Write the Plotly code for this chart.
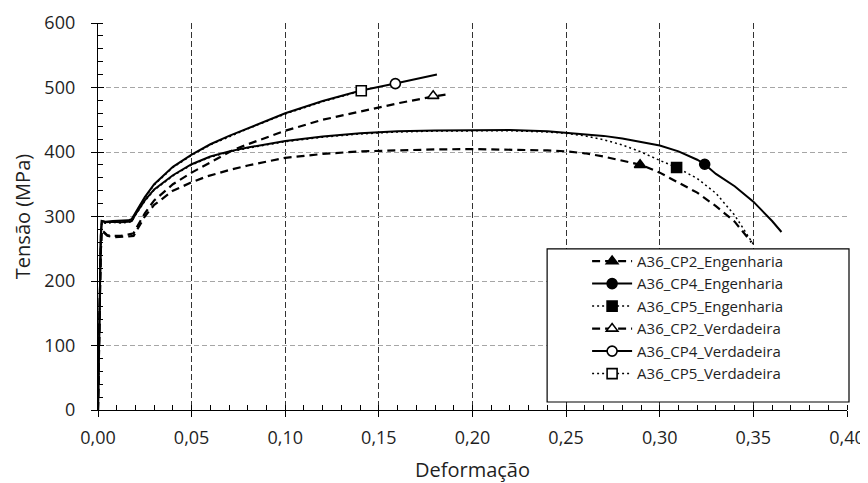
import plotly.graph_objects as go

# ---------------- data ----------------
cp4_eng_x = [0, 0.0008, 0.0015, 0.002, 0.004, 0.008, 0.012, 0.016, 0.018, 0.02, 0.025, 0.03, 0.04, 0.05,
             0.06, 0.07, 0.08, 0.10, 0.12, 0.14, 0.16, 0.18, 0.20, 0.22, 0.24, 0.25, 0.26, 0.27, 0.28,
             0.29, 0.30, 0.31, 0.32, 0.324, 0.33, 0.34, 0.35, 0.36, 0.365]
cp4_eng_y = [0, 150, 270, 293, 291, 292, 291, 292, 293, 303, 325, 342, 364, 381,
             393, 401, 407, 417, 424, 429, 432, 433.5, 434, 434, 432, 430, 428, 425, 421,
             416, 410, 401, 388, 381, 366, 347, 323, 293, 276]

cp5_eng_x = [0, 0.0008, 0.0015, 0.002, 0.004, 0.008, 0.012, 0.016, 0.018, 0.02, 0.025, 0.03, 0.04, 0.05,
             0.06, 0.07, 0.08, 0.10, 0.12, 0.14, 0.16, 0.18, 0.20, 0.22, 0.24, 0.25, 0.26, 0.27, 0.28,
             0.29, 0.30, 0.309, 0.32, 0.33, 0.34, 0.35]
cp5_eng_y = [0, 148, 268, 291, 290, 291, 290, 291, 292, 302, 324, 341, 363, 380,
             392, 400, 406, 416, 423, 428, 431, 432.5, 433, 433, 431, 429, 425, 419, 411,
             400, 387, 376, 359, 336, 302, 257]

cp2_eng_x = [0, 0.0008, 0.0014, 0.002, 0.003, 0.005, 0.008, 0.012, 0.016, 0.019, 0.021, 0.025, 0.03,
             0.04, 0.05, 0.058, 0.07, 0.08, 0.10, 0.12, 0.14, 0.16, 0.18, 0.20, 0.22, 0.24, 0.25,
             0.26, 0.27, 0.28, 0.29, 0.30, 0.31, 0.32, 0.33, 0.34, 0.349]
cp2_eng_y = [0, 140, 240, 278, 275, 270, 268, 268, 269, 270, 280, 300, 318,
             340, 353, 362, 372, 379, 391, 397, 401, 403, 404, 404.5, 404, 402.5, 401,
             398, 393, 387, 380, 368, 353, 337, 316, 292, 260]

cp2_ver_x = [0, 0.0008, 0.0014, 0.002, 0.003, 0.005, 0.008, 0.012, 0.016, 0.019, 0.021, 0.025, 0.03,
             0.04, 0.05, 0.06, 0.072, 0.08, 0.10, 0.12, 0.14, 0.161, 0.179, 0.186]
cp2_ver_y = [0, 140, 240, 279, 276, 271, 270, 270, 272, 274, 285, 305, 325,
             350, 368, 384, 403, 412, 433, 450, 463, 476, 486, 489]

cp4_ver_x = [0, 0.0008, 0.0015, 0.002, 0.004, 0.008, 0.012, 0.016, 0.018, 0.02, 0.025, 0.03, 0.04,
             0.05, 0.06, 0.07, 0.08, 0.10, 0.12, 0.14, 0.16, 0.181]
cp4_ver_y = [0, 150, 270, 293, 292, 293, 293, 294, 296, 306, 330, 350, 377,
             396, 412, 425, 437, 460, 479, 495, 507, 520]

cp5_ver_x = [0, 0.0008, 0.0015, 0.002, 0.004, 0.008, 0.012, 0.016, 0.018, 0.02, 0.025, 0.03, 0.04,
             0.05, 0.06, 0.07, 0.08, 0.10, 0.12, 0.141]
cp5_ver_y = [0, 148, 268, 291, 290, 291, 291, 292, 294, 305, 329, 349, 376,
             395, 411, 424, 436, 459, 478, 495]

# single highlighted points (markers)
marker_x = {"cp2_eng": 0.2895, "cp4_eng": 0.324, "cp5_eng": 0.309,
            "cp2_ver": 0.179, "cp4_ver": 0.1588, "cp5_ver": 0.1406}
marker_y = {"cp2_eng": 380, "cp4_eng": 381, "cp5_eng": 376,
            "cp2_ver": 487, "cp4_ver": 506, "cp5_ver": 495}

names = ["A36_CP2_Engenharia", "A36_CP4_Engenharia", "A36_CP5_Engenharia",
         "A36_CP2_Verdadeira", "A36_CP4_Verdadeira", "A36_CP5_Verdadeira"]

x_range = [0, 0.40]
x_major = 0.05
x_minor = 0.01
y_range = [0, 600]
y_major = 100
y_minor = 20

# ---------------- styling ----------------
FONT = "Open Sans"
TXT = "#1f1f1f"
DASH = "8px,5px"
DOT = "2px,3px"

series = [
    ("cp2_eng", cp2_eng_x, cp2_eng_y, DASH, 2.2, "triangle-up", "black"),
    ("cp4_eng", cp4_eng_x, cp4_eng_y, "solid", 2.0, "circle", "black"),
    ("cp5_eng", cp5_eng_x, cp5_eng_y, DOT, 1.5, "square", "black"),
    ("cp2_ver", cp2_ver_x, cp2_ver_y, DASH, 2.2, "triangle-up", "white"),
    ("cp4_ver", cp4_ver_x, cp4_ver_y, "solid", 2.0, "circle", "white"),
    ("cp5_ver", cp5_ver_x, cp5_ver_y, DOT, 1.5, "square", "white"),
]

fig = go.Figure()

# curves
for key, xs, ys, dash, w, sym, fill in series:
    fig.add_trace(go.Scatter(x=xs, y=ys, mode="lines", showlegend=False,
                             line=dict(color="black", width=w, dash=dash),
                             hoverinfo="skip"))
# single markers
for key, xs, ys, dash, w, sym, fill in series:
    fig.add_trace(go.Scatter(x=[marker_x[key]], y=[marker_y[key]], mode="markers", showlegend=False,
                             marker=dict(symbol=sym, size=10, color=fill,
                                         line=dict(color="black", width=1.6)),
                             hoverinfo="skip"))
# legend entries
for (key, xs, ys, dash, w, sym, fill), nm in zip(series, names):
    fig.add_trace(go.Scatter(x=[None], y=[None], mode="lines+markers", name=nm,
                             line=dict(color="black", width=w, dash=dash),
                             marker=dict(symbol=sym, size=10, color=fill,
                                         line=dict(color="black", width=1.6))))

# helper trace for the inside major ticks (overlay axes)
fig.add_trace(go.Scatter(x=[None], y=[None], xaxis="x2", yaxis="y2", showlegend=False))

# the page has an 8px body margin, so the figure is 8px smaller and offset
OFF = 8
W, H = 868 - OFF, 483 - OFF
PAGE_L, PAGE_R, PAGE_T, PAGE_B = 97.7, 847.0, 23.3, 410.0
L, T = PAGE_L - OFF, PAGE_T - OFF
R, B = W - (PAGE_R - OFF), H - (PAGE_B - OFF)
pw, ph = PAGE_R - PAGE_L, PAGE_B - PAGE_T


def px_x(p):
    return (p - PAGE_L) / pw


def px_y(p):
    return (PAGE_B - p) / ph


fig.add_shape(type="rect", xref="paper", yref="paper",
              x0=px_x(547), x1=px_x(849), y0=px_y(402), y1=px_y(249),
              line=dict(color="black", width=1.2), fillcolor="white", layer="above")

fig.update_layout(
    width=W, height=H, autosize=False,
    margin=dict(l=L, r=R, t=T, b=B, pad=0, autoexpand=False),
    paper_bgcolor="white", plot_bgcolor="white",
    separators=",.",
    font=dict(family=FONT, color=TXT, size=18),
    showlegend=True,
    legend=dict(x=px_x(587), y=px_y(245), xanchor="left", yanchor="top",
                bgcolor="rgba(0,0,0,0)", borderwidth=0,
                font=dict(family=FONT, size=15, color=TXT),
                itemwidth=40, tracegroupgap=0),
    xaxis=dict(range=x_range, tickmode="linear", tick0=0, dtick=x_major, tickformat=".2f",
               automargin=False,
               showline=True, linecolor="black", linewidth=1.3,
               ticks="outside", ticklen=6, tickcolor="black", tickwidth=1.2,
               showgrid=True, gridcolor="#333333", gridwidth=1, griddash="6px,3px",
               zeroline=False,
               minor=dict(tickmode="linear", dtick=x_minor, ticks="inside", ticklen=5,
                          tickcolor="black", tickwidth=1, showgrid=False),
               tickfont=dict(size=18, family=FONT, color=TXT),
               ticklabelstandoff=5,
               title=dict(text="Deformação", font=dict(size=20, family=FONT, color=TXT), standoff=16)),
    yaxis=dict(range=y_range, tickmode="linear", tick0=0, dtick=y_major, tickformat="d",
               automargin=False,
               showline=True, linecolor="black", linewidth=1.3,
               ticks="outside", ticklen=6, tickcolor="black", tickwidth=1.2,
               showgrid=True, gridcolor="#a6a6a6", gridwidth=1, griddash="5px,3px",
               zeroline=False,
               minor=dict(tickmode="linear", dtick=y_minor, ticks="inside", ticklen=5,
                          tickcolor="black", tickwidth=1, showgrid=False),
               tickfont=dict(size=18, family=FONT, color=TXT),
               ticklabelstandoff=12,
               title=dict(text="Tensão (MPa)", font=dict(size=20, family=FONT, color=TXT), standoff=8)),
    xaxis2=dict(range=x_range, overlaying="x", anchor="free", position=0, side="bottom",
                automargin=False,
                tickmode="linear", tick0=0, dtick=x_major, ticks="inside", ticklen=5,
                tickcolor="black", tickwidth=1.2,
                showticklabels=False, showgrid=False, zeroline=False, showline=False),
    yaxis2=dict(range=y_range, overlaying="y", anchor="free", position=0, side="left",
                automargin=False,
                tickmode="linear", tick0=0, dtick=y_major, ticks="inside", ticklen=5,
                tickcolor="black", tickwidth=1.2,
                showticklabels=False, showgrid=False, zeroline=False, showline=False),
)

fig.write_html("out.html")
